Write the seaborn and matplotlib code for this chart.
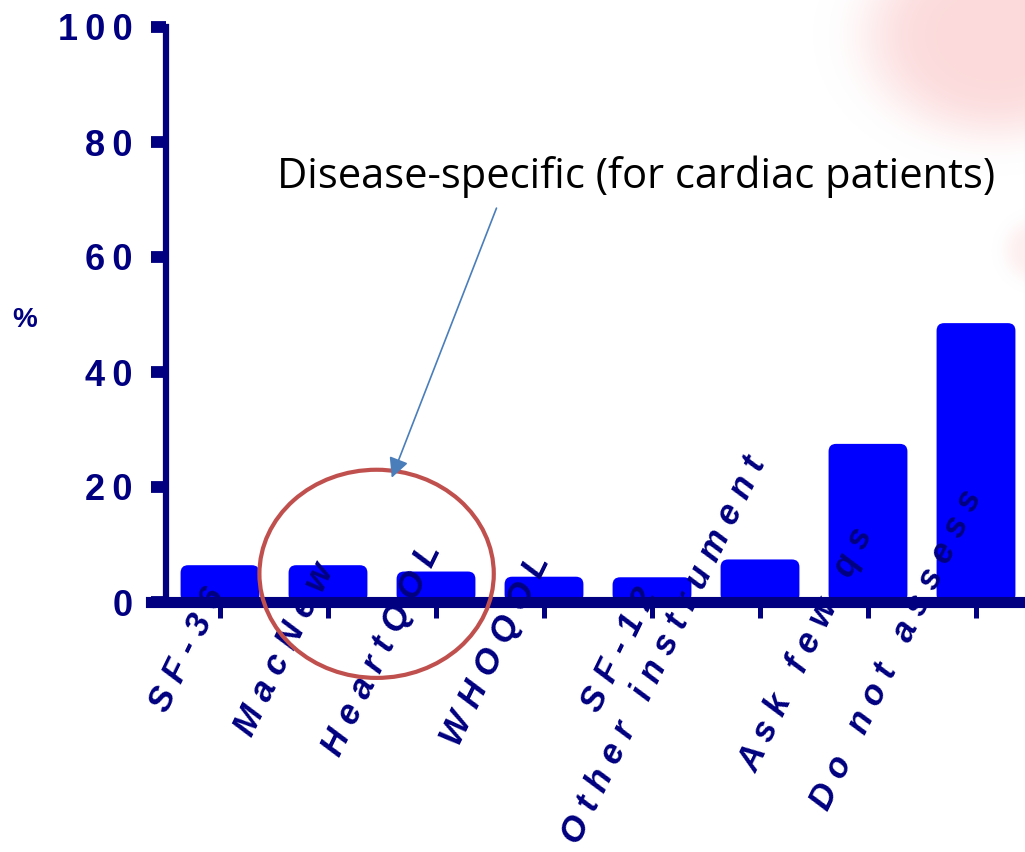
import numpy as np
import pandas as pd
import matplotlib
matplotlib.use("Agg")
import matplotlib.pyplot as plt
import matplotlib.transforms as mtrans
from matplotlib.patches import FancyBboxPatch, Ellipse, BoxStyle
import seaborn as sns

# ---- data -------------------------------------------------------------
categories = ["SF-36", "MacNew", "HeartQOL", "WHOQOL", "SF-12",
              "Other instrument", "Ask few qs", "Do not assess"]
percent = [6.4, 6.4, 5.3, 4.4, 4.3, 7.4, 27.5, 48.5]
ytick_values = [0, 20, 40, 60, 80, 100]
note_text = "Disease-specific (for cardiac patients)"

NAVY = "#000080"
BAR = "#0000FF"

sns.set_style("white")
plt.rcParams["font.family"] = ["Liberation Sans", "DejaVu Sans"]

W, H = 1025, 852
fig = plt.figure(figsize=(W / 100, H / 100), dpi=100)

# soft pink decoration in the upper right corner
deco = fig.add_axes([0, 0, 1, 1], zorder=-5)
deco.set_axis_off()
gx, gy = np.meshgrid(np.arange(W), np.arange(H))
blob = np.exp(-(((gx - 995) / 130.0) ** 2 + ((gy - 35) / 100.0) ** 2) ** 2.5)
blob += 0.45 * np.exp(-(((gx - 1035) / 30.0) ** 2 + ((gy - 250) / 30.0) ** 2) ** 2)
blob = np.clip(blob, 0, 1) * 0.9
rgba = np.zeros((H, W, 4))
rgba[..., 0] = 252 / 255
rgba[..., 1] = 214 / 255
rgba[..., 2] = 215 / 255
rgba[..., 3] = blob
deco.imshow(rgba, extent=(0, W, H, 0), aspect="auto", interpolation="bilinear")
deco.set_xlim(0, W)
deco.set_ylim(H, 0)

left_px, right_px, top_px, bottom_px = 166, 1030, 27, 602
ax = fig.add_axes([left_px / W, 1 - bottom_px / H,
                   (right_px - left_px) / W, (bottom_px - top_px) / H])
ax.patch.set_alpha(0)

df = pd.DataFrame({"category": categories, "percent": percent})
sns.barplot(data=df, x="category", y="percent", color=BAR, saturation=1,
            width=0.73, ax=ax, zorder=2)

ax.set_xlim(-0.5, 7.5)
ax.set_ylim(0, 100)

# rounded tops for the bars
fig.canvas.draw()
p0 = ax.transData.transform((0, 0))
p1 = ax.transData.transform((1, 1))
aspect = (p1[0] - p0[0]) / (p1[1] - p0[1])
bars = list(ax.patches)
for b in bars:
    x, y = b.get_x(), b.get_y()
    w, h = b.get_width(), b.get_height()
    b.remove()
    ax.add_patch(FancyBboxPatch((x, y), w, h,
                                boxstyle=BoxStyle.Round(pad=0, rounding_size=0.07),
                                mutation_aspect=aspect, fc=BAR, ec="none",
                                zorder=2))

# axes styling
for s in ["top", "right"]:
    ax.spines[s].set_visible(False)
ax.spines["left"].set_color(NAVY)
ax.spines["left"].set_linewidth(4.5)
ax.spines["left"].set_bounds(0, 100)
ax.spines["bottom"].set_color(NAVY)
ax.spines["bottom"].set_linewidth(8)
ax.spines["bottom"].set_bounds(-0.64, 7.5)
ax.spines["bottom"].set_zorder(3)

ax.set_yticks(ytick_values)
ax.set_yticklabels(["\u2009".join(str(v)) for v in ytick_values],
                   fontweight="bold", fontsize=26, color=NAVY)
ax.tick_params(axis="y", direction="out", length=11, width=8.5,
               color=NAVY, pad=13, left=True)

ax.set_xticks(range(len(categories)))
ax.set_xticklabels([])
ax.tick_params(axis="x", direction="out", length=11.5, width=3.6,
               color=NAVY, bottom=True)
ax.set_xlabel("")
ax.set_ylabel("")

# spaced, slanted category names
shift = mtrans.ScaledTranslation(12 / 100, -48 / 100, fig.dpi_scale_trans)
for i, name in enumerate(categories):
    ax.text(i, 0, " ".join(name), transform=ax.transData + shift,
            rotation=64, ha="right", va="center", fontsize=25,
            fontweight="bold", fontstyle="italic", color=NAVY, zorder=4)

fig.text(25 / W, 1 - 320 / H, "%", fontsize=20, fontweight="bold",
         color=NAVY, ha="center", va="center")

# highlight of the disease-specific instruments
ax.add_patch(Ellipse((1.45, 4.9), 2.17, 36.2, fill=False, ec="#C0504D",
                     lw=3, zorder=5, clip_on=False))
ax.annotate("", xy=(1.59, 21.6), xytext=(2.56, 68.5),
            arrowprops=dict(arrowstyle="-|>", color="#4A7EBB", lw=1.2,
                            mutation_scale=30, shrinkA=0, shrinkB=0),
            zorder=6, annotation_clip=False)
ax.text(3.85, 73.9, note_text, ha="center", va="center", fontsize=30,
        family=["Open Sans", "DejaVu Sans"], color="black", zorder=6)

fig.savefig("out.png", dpi=100)
